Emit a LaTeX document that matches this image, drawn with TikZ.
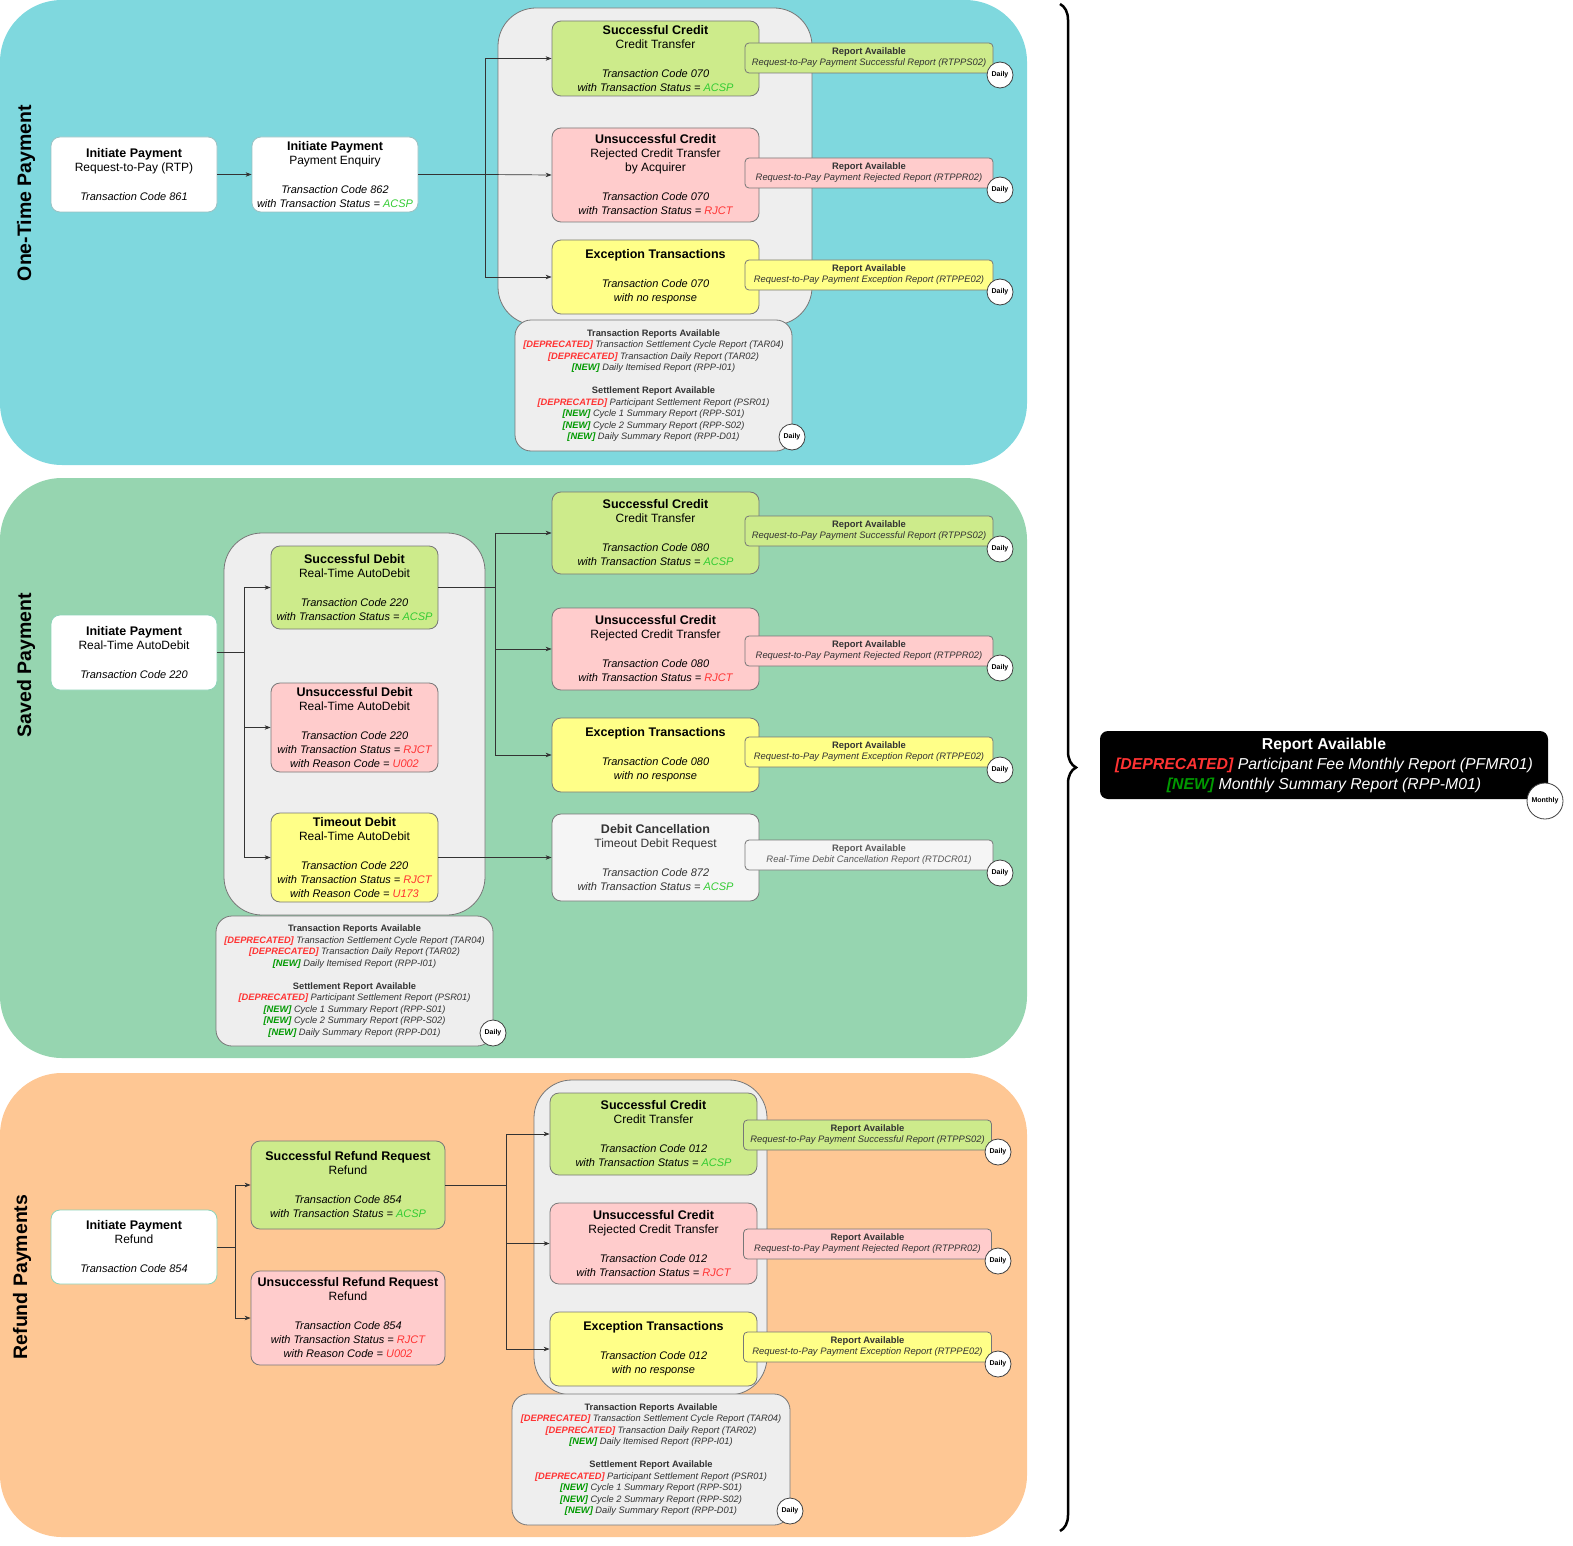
\documentclass[tikz,border=0pt]{standalone}
\usepackage{fontspec}
\setmainfont{Liberation Sans}
\usetikzlibrary{arrows.meta,decorations.pathreplacing}

\definecolor{otpband}{HTML}{7FD8DE}
\definecolor{savband}{HTML}{96D5B0}
\definecolor{refband}{HTML}{FEC794}
\definecolor{grpfill}{HTML}{EEEEEE}
\definecolor{okfill}{HTML}{CDEB8B}
\definecolor{badfill}{HTML}{FFCCCC}
\definecolor{exfill}{HTML}{FFFF88}
\definecolor{cxlfill}{HTML}{F5F5F5}
\definecolor{okgreen}{HTML}{33CC33}
\definecolor{newgreen}{HTML}{009900}
\definecolor{rjred}{HTML}{FF3333}
\definecolor{txtgray}{HTML}{333333}
\definecolor{edgegray}{HTML}{777777}
\definecolor{initedge}{HTML}{8CD3B8}

\newcommand\boxhd[1]{{\fontsize{12.5}{14}\selectfont\bfseries #1}}
\newcommand\boxcd[1]{{\fontsize{11}{14}\selectfont\itshape #1}}
\newcommand\stok{\textcolor{okgreen}{ACSP}}
\newcommand\strj{\textcolor{rjred}{RJCT}}
\newcommand\tagdep{\textcolor{rjred}{\bfseries\itshape [DEPRECATED]}}
\newcommand\tagnew{\textcolor{newgreen}{\bfseries\itshape [NEW]}}
\newcommand\sumtext{\textbf{Transaction Reports Available}\\
  \textit{\tagdep{} Transaction Settlement Cycle Report (TAR04)}\\
  \textit{\tagdep{} Transaction Daily Report (TAR02)}\\
  \textit{\tagnew{} Daily Itemised Report (RPP-I01)}\\[11.5pt]
  \textbf{Settlement Report Available}\\
  \textit{\tagdep{} Participant Settlement Report (PSR01)}\\
  \textit{\tagnew{} Cycle 1 Summary Report (RPP-S01)}\\
  \textit{\tagnew{} Cycle 2 Summary Report (RPP-S02)}\\
  \textit{\tagnew{} Daily Summary Report (RPP-D01)}}
\newcommand\repsucc{\textbf{Report Available}\\ \textit{Request-to-Pay Payment Successful Report (RTPPS02)}}
\newcommand\reprej{\textbf{Report Available}\\ \textit{Request-to-Pay Payment Rejected Report (RTPPR02)}}
\newcommand\repexc{\textbf{Report Available}\\ \textit{Request-to-Pay Payment Exception Report (RTPPE02)}}

\begin{document}
\begin{tikzpicture}[x=1pt,y=-1pt,
  sz/.style 2 args={minimum width=#1pt,minimum height=#2pt},
  grp/.style={draw=edgegray,fill=grpfill,line width=0.8pt,rounded corners=38pt},
  txn/.style={draw=edgegray,line width=0.8pt,rounded corners=9pt,align=center,
    inner sep=0pt,font=\fontsize{12}{14}\selectfont},
  initbox/.style={txn,draw=initedge,fill=white},
  okbox/.style={txn,fill=okfill},
  badbox/.style={txn,fill=badfill},
  exbox/.style={txn,fill=exfill},
  cxlbox/.style={txn,fill=cxlfill,text=txtgray},
  repbox/.style={draw=edgegray,line width=0.8pt,rounded corners=4pt,align=center,
    inner sep=0pt,minimum width=248pt,minimum height=30pt,
    font=\fontsize{9.4}{11}\selectfont,text=txtgray},
  sumbox/.style={draw=edgegray,fill=grpfill,line width=0.8pt,rounded corners=16pt,
    align=center,inner sep=0pt,font=\fontsize{9.3}{11.5}\selectfont,text=txtgray},
  freq/.style={circle,draw=black!75,fill=white,line width=0.8pt,inner sep=0pt,
    minimum size=26pt,font=\fontsize{7}{8}\selectfont\bfseries},
  bandtitle/.style={rotate=90,font=\fontsize{19.5}{22}\selectfont\bfseries},
  arr/.style={draw=txtgray,line width=0.7pt,-{Stealth[length=6pt,width=4.5pt]}},
  link/.style={draw=txtgray,line width=0.7pt}]

\useasboundingbox (0,0) rectangle (1573,1546);

% bands
\fill[otpband,rounded corners=62pt] (0,0) rectangle (1027,465);
\fill[savband,rounded corners=62pt] (0,478) rectangle (1027,1058);
\fill[refband,rounded corners=62pt] (0,1073) rectangle (1027,1537);
\draw[line width=2.5pt,decorate,decoration={brace,amplitude=16pt}] (1060,4) -- (1060,1531);

\node[bandtitle] (t1) at (26,193) {One-Time Payment};
\node[bandtitle] (t2) at (26,665) {Saved Payment};
\node[bandtitle] (t3) at (22,1277) {Refund Payments};

% one-time payment
\draw[grp] (498,8) rectangle (812,325);
\node[initbox,draw=otpband!70!black!60,sz={166}{75}] (a1) at (134,174.5)
  {\boxhd{Initiate Payment}\\ Request-to-Pay (RTP)\\[15pt] \boxcd{Transaction Code 861}};
\node[initbox,draw=otpband!70!black!60,sz={166}{75}] (a2) at (335,174.5)
  {\boxhd{Initiate Payment}\\ Payment Enquiry\\[15pt] \boxcd{Transaction Code 862}\\ \boxcd{with Transaction Status = \stok}};
\node[okbox,sz={207}{75}] (s1) at (655.5,58.5)
  {\boxhd{Successful Credit}\\ Credit Transfer\\[15pt] \boxcd{Transaction Code 070}\\ \boxcd{with Transaction Status = \stok}};
\node[badbox,sz={207}{94}] (u1) at (655.5,175)
  {\boxhd{Unsuccessful Credit}\\ Rejected Credit Transfer\\ by Acquirer\\[15pt] \boxcd{Transaction Code 070}\\ \boxcd{with Transaction Status = \strj}};
\node[exbox,sz={207}{74}] (e1) at (655.5,277)
  {\boxhd{Exception Transactions}\\[15pt] \boxcd{Transaction Code 070}\\ \boxcd{with no response}};
\node[repbox,fill=okfill] (rs1) at (869,58) {\repsucc};
\node[repbox,fill=badfill] (ru1) at (869,173) {\reprej};
\node[repbox,fill=exfill] (re1) at (869,275) {\repexc};
\node[freq] (fs1) at (1000,75) {Daily};
\node[freq] (fu1) at (1000,190) {Daily};
\node[freq] (fe1) at (1000,292) {Daily};
\node[sumbox,sz={277}{131}] (sum1) at (653.5,385.5) {\sumtext};
\node[freq] (fsum1) at (792,437) {Daily};

\coordinate (j1) at (485,174.5);
\draw[arr] (a1.east) -- (a2.west);
\draw[link] (a2.east) -- (j1);
\draw[arr] (j1) |- (s1.west);
\draw[arr] (j1) -- (u1.west);
\draw[arr] (j1) |- (e1.west);

% saved payment
\draw[grp] (224,533) rectangle (485,915);
\node[initbox,sz={166}{75}] (b1) at (134,652.5)
  {\boxhd{Initiate Payment}\\ Real-Time AutoDebit\\[15pt] \boxcd{Transaction Code 220}};
\node[okbox,sz={167}{83}] (sd) at (354.5,587.5)
  {\boxhd{Successful Debit}\\ Real-Time AutoDebit\\[15pt] \boxcd{Transaction Code 220}\\ \boxcd{with Transaction Status = \stok}};
\node[badbox,sz={167}{89}] (ud) at (354.5,727.5)
  {\boxhd{Unsuccessful Debit}\\ Real-Time AutoDebit\\[15pt] \boxcd{Transaction Code 220}\\ \boxcd{with Transaction Status = \strj}\\ \boxcd{with Reason Code = \textcolor{rjred}{U002}}};
\node[exbox,sz={167}{89}] (td) at (354.5,857.5)
  {\boxhd{Timeout Debit}\\ Real-Time AutoDebit\\[15pt] \boxcd{Transaction Code 220}\\ \boxcd{with Transaction Status = \strj}\\ \boxcd{with Reason Code = \textcolor{rjred}{U173}}};
\node[okbox,sz={207}{82}] (s2) at (655.5,533)
  {\boxhd{Successful Credit}\\ Credit Transfer\\[15pt] \boxcd{Transaction Code 080}\\ \boxcd{with Transaction Status = \stok}};
\node[badbox,sz={207}{82}] (u2) at (655.5,649)
  {\boxhd{Unsuccessful Credit}\\ Rejected Credit Transfer\\[15pt] \boxcd{Transaction Code 080}\\ \boxcd{with Transaction Status = \strj}};
\node[exbox,sz={207}{74}] (e2) at (655.5,755)
  {\boxhd{Exception Transactions}\\[15pt] \boxcd{Transaction Code 080}\\ \boxcd{with no response}};
\node[cxlbox,sz={207}{87}] (dc) at (655.5,857.5)
  {\boxhd{Debit Cancellation}\\ Timeout Debit Request\\[15pt] \boxcd{Transaction Code 872}\\ \boxcd{with Transaction Status = \stok}};
\node[repbox,fill=okfill] (rs2) at (869,531) {\repsucc};
\node[repbox,fill=badfill] (ru2) at (869,651) {\reprej};
\node[repbox,fill=exfill] (re2) at (869,752) {\repexc};
\node[repbox,fill=cxlfill,text=black!65] (rc2) at (869,855)
  {\textbf{Report Available}\\ \textit{Real-Time Debit Cancellation Report (RTDCR01)}};
\node[freq] (fs2) at (1000,549) {Daily};
\node[freq] (fu2) at (1000,668) {Daily};
\node[freq] (fe2) at (1000,770) {Daily};
\node[freq] (fc2) at (1000,873) {Daily};
\node[sumbox,sz={277}{130}] (sum2) at (354.5,981) {\sumtext};
\node[freq] (fsum2) at (493,1033) {Daily};

\coordinate (j2) at (244,652.5);
\coordinate (j3) at (495,587.5);
\draw[link] (b1.east) -- (j2);
\draw[arr] (j2) |- (sd.west);
\draw[arr] (j2) |- (ud.west);
\draw[arr] (j2) |- (td.west);
\draw[link] (sd.east) -- (j3);
\draw[arr] (j3) |- (s2.west);
\draw[arr] (j3) |- (u2.west);
\draw[arr] (j3) |- (e2.west);
\draw[arr] (td.east) -- (dc.west);

% refund payments
\draw[grp] (534,1080) rectangle (767,1395);
\node[initbox,sz={166}{74}] (c1) at (134,1247)
  {\boxhd{Initiate Payment}\\ Refund\\[15pt] \boxcd{Transaction Code 854}};
\node[okbox,sz={194}{88}] (sr) at (348,1185)
  {\boxhd{Successful Refund Request}\\ Refund\\[15pt] \boxcd{Transaction Code 854}\\ \boxcd{with Transaction Status = \stok}};
\node[badbox,sz={194}{94}] (ur) at (348,1318)
  {\boxhd{Unsuccessful Refund Request}\\ Refund\\[15pt] \boxcd{Transaction Code 854}\\ \boxcd{with Transaction Status = \strj}\\ \boxcd{with Reason Code = \textcolor{rjred}{U002}}};
\node[okbox,sz={207}{82}] (s3) at (653.5,1134)
  {\boxhd{Successful Credit}\\ Credit Transfer\\[15pt] \boxcd{Transaction Code 012}\\ \boxcd{with Transaction Status = \stok}};
\node[badbox,sz={207}{81}] (u3) at (653.5,1243.5)
  {\boxhd{Unsuccessful Credit}\\ Rejected Credit Transfer\\[15pt] \boxcd{Transaction Code 012}\\ \boxcd{with Transaction Status = \strj}};
\node[exbox,sz={207}{74}] (e3) at (653.5,1349)
  {\boxhd{Exception Transactions}\\[15pt] \boxcd{Transaction Code 012}\\ \boxcd{with no response}};
\node[repbox,fill=okfill] (rs3) at (867.5,1135) {\repsucc};
\node[repbox,fill=badfill] (ru3) at (867.5,1244) {\reprej};
\node[repbox,fill=exfill] (re3) at (867.5,1347) {\repexc};
\node[freq] (fs3) at (998,1152) {Daily};
\node[freq] (fu3) at (998,1261) {Daily};
\node[freq] (fe3) at (998,1364) {Daily};
\node[sumbox,sz={278}{131}] (sum3) at (651,1459.5) {\sumtext};
\node[freq] (fsum3) at (790,1511) {Daily};

\coordinate (j4) at (235,1247);
\coordinate (j5) at (506,1185);
\draw[link] (c1.east) -- (j4);
\draw[arr] (j4) |- (sr.west);
\draw[arr] (j4) |- (ur.west);
\draw[link] (sr.east) -- (j5);
\draw[arr] (j5) |- (s3.west);
\draw[arr] (j5) |- (u3.west);
\draw[arr] (j5) |- (e3.west);

% monthly report
\node[fill=black,rounded corners=8pt,align=center,inner sep=0pt,text=white,
  minimum width=448pt,minimum height=68pt,font=\fontsize{15.8}{20}\selectfont] (mrep) at (1324,765)
  {\textbf{Report Available}\\
   \textit{\tagdep{} Participant Fee Monthly Report (PFMR01)}\\
   \textit{\tagnew{} Monthly Summary Report (RPP-M01)}};
\node[freq,minimum size=36pt] (fmrep) at (1545,801) {Monthly};
\end{tikzpicture}
\end{document}
